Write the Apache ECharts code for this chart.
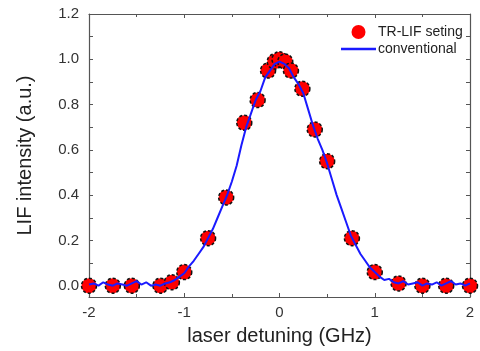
<!DOCTYPE html>
<html>
<head>
<meta charset="utf-8">
<script src="https://cdn.jsdelivr.net/npm/echarts@6/dist/echarts.min.js"></script>
<style>
  html, body { margin: 0; padding: 0; background: #fff; }
  #chart { width: 480px; height: 351px; }
</style>
</head>
<body>
<div id="chart"></div>
<script>
// TR-LIF points (GHz, a.u.)
const pointX = [-2.0, -1.75, -1.55, -1.25, -1.13, -1.0, -0.75, -0.56, -0.37, -0.23, -0.12, -0.05,
  0.0, 0.06, 0.12, 0.24, 0.37, 0.5, 0.76, 1.0, 1.25, 1.5, 1.75, 2.0];
const pointY = [0.0, 0.0, 0.0, 0.0, 0.015, 0.06, 0.21, 0.39, 0.72, 0.82, 0.95, 0.99,
  1.0, 0.99, 0.95, 0.87, 0.69, 0.55, 0.21, 0.06, 0.01, 0.0, 0.0, 0.0];

// conventional scan
const lineX = [-2.0, -1.95, -1.9, -1.85, -1.8, -1.75, -1.7, -1.65, -1.6, -1.55, -1.5, -1.45, -1.4, -1.35,
  -1.3, -1.25, -1.2, -1.15, -1.1, -1.05, -1.0, -0.95, -0.9, -0.85, -0.8, -0.75, -0.7, -0.65, -0.6,
  -0.55, -0.5, -0.45, -0.4, -0.35, -0.3, -0.25, -0.2, -0.15, -0.1, -0.05, 0.0, 0.05, 0.1, 0.15, 0.2,
  0.25, 0.3, 0.35, 0.4, 0.45, 0.5, 0.55, 0.6, 0.65, 0.7, 0.75, 0.8, 0.85, 0.9, 0.95, 1.0, 1.05, 1.1,
  1.15, 1.2, 1.25, 1.3, 1.35, 1.4, 1.45, 1.5, 1.55, 1.6, 1.65, 1.7, 1.75, 1.8, 1.85, 1.9, 1.95, 2.0];
const lineY = [0.005, 0.01, 0.0, 0.015, 0.005, 0.0, 0.01, 0.005, 0.0, 0.01, 0.02, 0.005, 0.015, 0.0,
  0.005, 0.0, 0.01, 0.015, 0.025, 0.04, 0.055, 0.085, 0.11, 0.14, 0.17, 0.21, 0.25, 0.3, 0.35,
  0.4, 0.46, 0.53, 0.62, 0.7, 0.76, 0.82, 0.86, 0.92, 0.95, 0.98, 0.99, 0.98, 0.96, 0.92, 0.89,
  0.85, 0.78, 0.71, 0.65, 0.6, 0.54, 0.47, 0.4, 0.34, 0.28, 0.22, 0.18, 0.14, 0.11, 0.08, 0.06, 0.04, 0.025,
  0.03, 0.015, 0.01, 0.02, 0.005, 0.01, 0.015, 0.0, 0.01, 0.005, 0.015, 0.0, 0.01, 0.02, 0.005, 0.01, 0.0, 0.01];

const yLabels = [0, 0.2, 0.4, 0.6, 0.8, 1.0, 1.2];
const yTicks = [0, 0.1, 0.2, 0.3, 0.4, 0.5, 0.6, 0.7, 0.8, 0.9, 1.0, 1.1, 1.2];

const axisColor = '#555';
const font = '"Liberation Sans", Arial, sans-serif';

const chart = echarts.init(document.getElementById('chart'));

const frameLine = { show: true, onZero: false, lineStyle: { color: axisColor, width: 1.2 } };
const tickInside = { show: true, inside: true, length: 4, lineStyle: { color: axisColor } };
const minorInside = { show: true, splitNumber: 2, length: 3, lineStyle: { color: axisColor } };

chart.setOption({
  animation: false,
  backgroundColor: '#fff',
  grid: { left: 89, right: 10, top: 14, bottom: 54 },
  legend: {
    orient: 'vertical',
    left: 336,
    top: 20,
    itemWidth: 35,
    itemHeight: 14,
    itemGap: 3,
    textStyle: { fontFamily: font, fontSize: 14, color: '#222', padding: [0, 0, 0, -3] },
    data: [
      { name: 'TR-LIF seting', icon: 'circle', itemStyle: { borderWidth: 0, color: '#ff0000' } },
      { name: 'conventional', icon: 'path://M0,0 H35 V2.5 H0 Z', itemStyle: { color: '#1a1aff' } }
    ]
  },
  xAxis: [
    {
      type: 'value', min: -2, max: 2, interval: 1,
      name: 'laser detuning (GHz)', nameLocation: 'middle', nameGap: 29,
      nameTextStyle: { fontFamily: font, fontSize: 20, color: '#222' },
      axisLine: frameLine,
      axisTick: tickInside,
      minorTick: minorInside,
      axisLabel: { fontFamily: font, fontSize: 15, color: '#333', margin: 8 },
      splitLine: { show: false }
    },
    {
      type: 'value', min: -2, max: 2, interval: 1, position: 'top',
      axisLine: frameLine,
      axisTick: tickInside,
      minorTick: minorInside,
      axisLabel: { show: false },
      splitLine: { show: false }
    }
  ],
  yAxis: [
    {
      type: 'value', min: -0.05, max: 1.2,
      name: 'LIF intensity (a.u.)', nameLocation: 'middle', nameGap: 54,
      nameTextStyle: { fontFamily: font, fontSize: 20, color: '#222' },
      axisLine: frameLine,
      axisTick: { show: true, inside: true, length: 4, customValues: yTicks, lineStyle: { color: axisColor } },
      axisLabel: {
        fontFamily: font, fontSize: 15, color: '#333', margin: 10,
        customValues: yLabels,
        formatter: v => v.toFixed(1)
      },
      splitLine: { show: false }
    },
    {
      type: 'value', min: -0.05, max: 1.2, position: 'right',
      axisLine: frameLine,
      axisTick: { show: true, inside: true, length: 4, customValues: yTicks, lineStyle: { color: axisColor } },
      axisLabel: { show: false },
      splitLine: { show: false }
    }
  ],
  series: [
    {
      name: 'TR-LIF seting',
      type: 'scatter',
      symbol: 'circle',
      symbolSize: 15,
      itemStyle: { color: '#ff0000', opacity: 1, borderColor: '#111', borderWidth: 1.5, borderType: [3, 2] },
      data: pointX.map((x, i) => [x, pointY[i]]),
      z: 2
    },
    {
      name: 'conventional',
      type: 'line',
      showSymbol: false,
      symbol: 'none',
      lineStyle: { color: '#1a1aff', width: 2 },
      itemStyle: { color: '#1a1aff' },
      data: lineX.map((x, i) => [x, lineY[i]]),
      z: 3
    }
  ]
});
</script>
</body>
</html>
